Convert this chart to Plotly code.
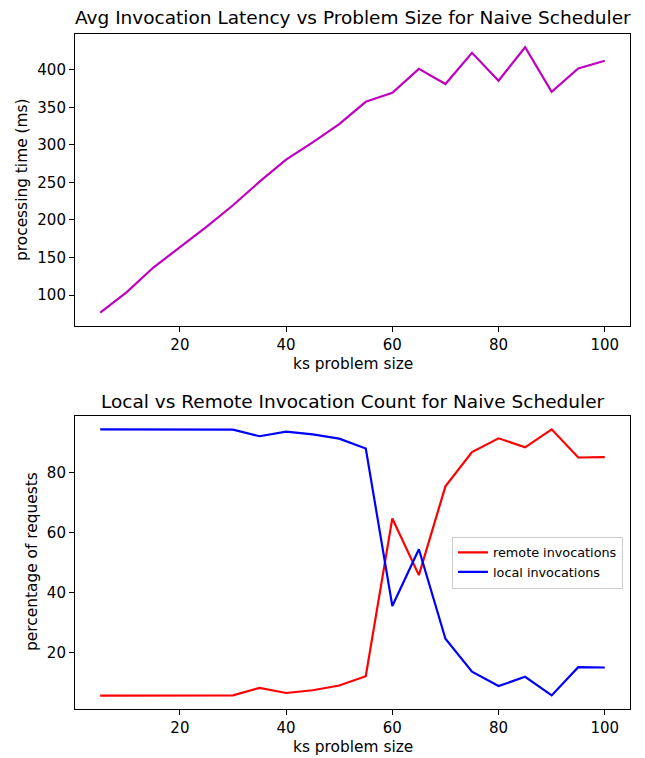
import plotly.graph_objects as go

problem_size = [5, 10, 15, 20, 25, 30, 35, 40, 45, 50, 55, 60, 65, 70, 75, 80, 85, 90, 95, 100]
latency_ms = [76.5, 104, 136.7, 164, 190.8, 219.6, 251, 280.3, 303.4, 327.7, 357.4, 369.4,
              401.3, 381, 422.6, 385.4, 430, 370.7, 401.8, 412]
remote_pct = [5.6, 5.6, 5.6, 5.6, 5.6, 5.7, 8.2, 6.5, 7.4, 9.0, 12.1, 64.7,
              45.8, 75.4, 86.8, 91.4, 88.4, 94.4, 85.0, 85.1]
local_pct = [94.4, 94.4, 94.4, 94.4, 94.4, 94.3, 92.1, 93.6, 92.7, 91.3, 88.0, 35.5,
             54.4, 24.6, 13.6, 8.8, 11.9, 5.7, 15.1, 15.0]

top_title = "Avg Invocation Latency vs Problem Size for Naive Scheduler"
bottom_title = "Local vs Remote Invocation Count for Naive Scheduler"
x_label = "ks problem size"
top_ylabel = "processing time (ms)"
bottom_ylabel = "percentage of requests"

FONT = "DejaVu Sans"
TITLE_SIZE = 18.5
LABEL_SIZE = 15.4
TICK_SIZE = 15.0
LEGEND_SIZE = 12.8
W, H = 645, 758
ML, MR, MT, MB = 75, 15, 34, 49
PW, PH = W - ML - MR, H - MT - MB


def py(pix):
    return (H - MB - pix) / PH


def px(pix):
    return (pix - ML) / PW


fig = go.Figure()
fig.add_trace(go.Scatter(x=problem_size, y=latency_ms, mode="lines",
                         line=dict(color="#bf00bf", width=2.2), showlegend=False,
                         xaxis="x", yaxis="y"))
fig.add_trace(go.Scatter(x=problem_size, y=remote_pct, mode="lines", name="remote invocations",
                         line=dict(color="#ff0000", width=2.2), xaxis="x2", yaxis="y2"))
fig.add_trace(go.Scatter(x=problem_size, y=local_pct, mode="lines", name="local invocations",
                         line=dict(color="#0000ff", width=2.2), xaxis="x2", yaxis="y2"))

xspan = max(problem_size) - min(problem_size)
xr = [min(problem_size) - 0.05 * xspan, max(problem_size) + 0.05 * xspan]
lspan = max(latency_ms) - min(latency_ms)
yr1 = [min(latency_ms) - 0.05 * lspan, max(latency_ms) + 0.05 * lspan]
allp = remote_pct + local_pct
pspan = max(allp) - min(allp)
yr2 = [min(allp) - 0.05 * pspan, max(allp) + 0.05 * pspan]

axis_common = dict(showgrid=False, zeroline=False, showline=True, linecolor="black", linewidth=1.1,
                   mirror=True, ticks="outside", ticklen=5, tickwidth=1.1, tickcolor="black",
                   tickfont=dict(family=FONT, size=TICK_SIZE, color="black"))

fig.update_layout(
    width=W, height=H,
    margin=dict(l=ML, r=MR, t=MT, b=MB),
    paper_bgcolor="white", plot_bgcolor="white",
    font=dict(family=FONT, color="black"),
    xaxis=dict(domain=[0, 1], anchor="y", range=xr, tickvals=[20, 40, 60, 80, 100], **axis_common),
    yaxis=dict(domain=[py(326), 1], anchor="x", range=yr1,
               tickvals=[100, 150, 200, 250, 300, 350, 400], **axis_common),
    xaxis2=dict(domain=[0, 1], anchor="y2", range=xr, tickvals=[20, 40, 60, 80, 100], **axis_common),
    yaxis2=dict(domain=[0, py(416)], anchor="x2", range=yr2, tickvals=[20, 40, 60, 80], **axis_common),
    legend=dict(x=px(623), xanchor="right", y=py(562.5), yanchor="middle",
                bgcolor="rgba(255,255,255,0.8)", bordercolor="#cccccc", borderwidth=1,
                font=dict(family=FONT, size=LEGEND_SIZE, color="black"), tracegroupgap=0,
                itemwidth=30),
    annotations=[
        dict(text=top_title, x=0.5, y=py(18), xref="paper", yref="paper", showarrow=False,
             xanchor="center", yanchor="middle", font=dict(family=FONT, size=TITLE_SIZE)),
        dict(text=bottom_title, x=0.5, y=py(401), xref="paper", yref="paper", showarrow=False,
             xanchor="center", yanchor="middle", font=dict(family=FONT, size=TITLE_SIZE)),
        dict(text=x_label, x=0.5, y=py(364), xref="paper", yref="paper", showarrow=False,
             xanchor="center", yanchor="middle", font=dict(family=FONT, size=LABEL_SIZE)),
        dict(text=x_label, x=0.5, y=py(747), xref="paper", yref="paper", showarrow=False,
             xanchor="center", yanchor="middle", font=dict(family=FONT, size=LABEL_SIZE)),
        dict(text=top_ylabel, x=px(22), y=py(180), xref="paper", yref="paper", showarrow=False,
             textangle=-90, xanchor="center", yanchor="middle", font=dict(family=FONT, size=LABEL_SIZE)),
        dict(text=bottom_ylabel, x=px(32), y=py(562), xref="paper", yref="paper", showarrow=False,
             textangle=-90, xanchor="center", yanchor="middle", font=dict(family=FONT, size=LABEL_SIZE)),
    ],
)

fig.write_html("out.html", config={"displayModeBar": False},
               post_script="document.body.style.margin='0';document.body.style.padding='0';"
                           "document.body.style.overflow='hidden';")
